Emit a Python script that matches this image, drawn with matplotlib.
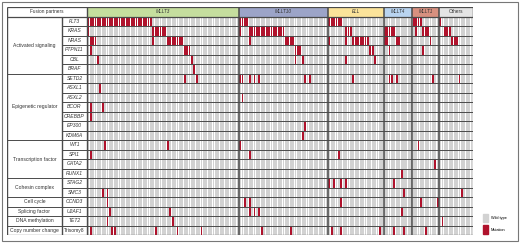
import numpy as np
import matplotlib.pyplot as plt
from matplotlib.patches import Patch, Rectangle

plt.rcParams['font.family'] = ['Liberation Sans', 'DejaVu Sans']

# fusion partner groups (patients are columns, grouped by partner)
partners = ['MLLT3', 'MLLT10', 'ELL', 'MLLT4', 'MLLT1', 'Others']
partner_sizes = [63, 37, 23, 12, 11, 14]
partner_colors = ['#c5de9e', '#9ca4c8', '#fbe39a', '#b9d4f0', '#d8907f', '#e4e4e4']

categories = ['Activated signaling', 'Epigenetic regulator', 'Transcription factor',
              'Cohesin complex', 'Cell cycle', 'Splicing factor', 'DNA methylation',
              'Copy number change']
category_sizes = [6, 7, 4, 2, 1, 1, 1, 1]

genes = ['FLT3', 'KRAS', 'NRAS', 'PTPN11', 'CBL', 'BRAF',
         'SETD2', 'ASXL1', 'ASXL2', 'BCOR', 'CREBBP', 'EP300', 'KDM6A',
         'WT1', 'SPI1', 'GATA2', 'RUNX1',
         'STAG2', 'SMC3', 'CCND3', 'U2AF1', 'TET2', 'Trisomy8']

# mutated patient columns for each row
flt3 = [0, 1, 2, 3, 4, 5, 6, 7, 8, 9, 10, 11, 12, 13, 14, 15, 16, 17, 18, 19, 20, 21, 22, 23, 24, 25, 26,
        63, 64, 65, 66, 100, 101, 102, 103, 104, 105, 135, 136, 137, 138, 146]
kras = [0, 27, 28, 29, 30, 31, 32, 63, 67, 68, 69, 70, 71, 72, 73, 74, 75, 76, 77, 78, 79, 80, 81,
        107, 108, 109, 123, 124, 125, 126, 127, 136, 139, 140, 141, 148, 149, 150]
nras = [1, 2, 3, 27, 33, 34, 35, 36, 37, 38, 39, 67, 82, 83, 84, 85, 100, 107,
        110, 111, 112, 113, 114, 115, 116, 123, 124, 128, 129, 142, 151, 152, 153]
ptpn11 = [1, 40, 41, 42, 86, 87, 88, 117, 118, 125, 139]
cbl = [4, 43, 86, 89, 107, 119]
braf = [44]
setd2 = [40, 45, 63, 64, 67, 69, 71, 90, 92, 110, 125, 126, 128, 143, 154]
asxl1 = [5]
asxl2 = [64]
bcor = [1, 6]
crebbp = [1]
ep300 = [90]
kdm6a = [89]
wt1 = [7, 33, 63, 137]
spi1 = [1, 67, 104]
gata2 = [144]
runx1 = [130]
stag2 = [100, 102, 105, 107, 127]
smc3 = [6, 8, 131, 155]
ccnd3 = [8, 65, 67, 105, 138, 145]
u2af1 = [9, 34, 67, 69, 71, 130]
tet2 = [8, 35, 147]
trisomy8 = [1, 10, 11, 28, 37, 47, 72, 84, 101, 105, 121, 127, 131, 140]

mutated = [flt3, kras, nras, ptpn11, cbl, braf, setd2, asxl1, asxl2, bcor, crebbp, ep300,
           kdm6a, wt1, spi1, gata2, runx1, stag2, smc3, ccnd3, u2af1, tet2, trisomy8]

GREY = '#d2d2d2'
RED = '#b0122c'
LINE = '#4a4a4a'
GENE_W = 10.4
CAT_W = 22.8
n_cols = sum(partner_sizes)
n_rows = len(genes)
left = -(GENE_W + CAT_W)

fig = plt.figure(figsize=(5.2, 2.43), dpi=100)
ax = fig.add_axes([7 / 520, 1 - 235 / 243, (472.7 - 7) / 520, (235 - 7) / 243])
ax.set_xlim(left, n_cols)
ax.set_ylim(n_rows, -1)
ax.axis('off')

cols = np.arange(n_cols)
for r, muts in enumerate(mutated):
    colors = np.where(np.isin(cols, muts), RED, GREY)
    ax.bar(cols + 0.5, 1, width=0.76, bottom=r, color=colors, linewidth=0)
    ax.text(-GENE_W / 2, r + 0.5, genes[r], ha='center', va='center', fontsize=3.6,
            style='normal' if genes[r] == 'Trisomy8' else 'italic', color='#333333')

# header row
starts = np.concatenate([[0], np.cumsum(partner_sizes)[:-1]])
sizes = np.array(partner_sizes)
ax.bar(starts + sizes / 2, 1, width=sizes, bottom=-1, color=partner_colors, linewidth=0)
for s, w, name in zip(starts, sizes, partners):
    ax.text(s + w / 2, -0.5, name, ha='center', va='center', fontsize=3.4, color='#333333',
            style='normal' if name == 'Others' else 'italic')
ax.text(left / 2, -0.5, 'Fusion partners', ha='center', va='center', fontsize=3.4, color='#333333')

# category labels
cat_starts = np.concatenate([[0], np.cumsum(category_sizes)[:-1]])
for s, n, name in zip(cat_starts, category_sizes, categories):
    ax.text(left + CAT_W / 2, s + n / 2, name, ha='center', va='center', fontsize=3.6, color='#333333')

# grid lines
ax.hlines(np.arange(1, n_rows), -GENE_W, n_cols, color=LINE, lw=0.7)
ax.hlines(cat_starts[1:], left, -GENE_W, color=LINE, lw=0.7)
ax.hlines([-1, 0, n_rows], left, n_cols, color=LINE, lw=0.9)
ax.vlines([left, 0, n_cols], -1, n_rows, color=LINE, lw=1.0)
ax.vlines([-GENE_W], 0, n_rows, color=LINE, lw=1.0)
ax.vlines(starts[1:], -1, n_rows, color=LINE, lw=1.1)

handles = [Patch(color=GREY, label='Wild type'), Patch(color=RED, label='Mutation')]
fig.legend(handles=handles, loc='lower left', bbox_to_anchor=(479 / 520, 6 / 243), frameon=False,
           fontsize=2.8, handlelength=1.3, handleheight=2.8, handletextpad=0.9, labelspacing=1.0)

fig.add_artist(Rectangle((2 / 520, 2 / 243), 515.5 / 520, 238.5 / 243, transform=fig.transFigure,
                         fill=False, ec='#777777', lw=0.8))

fig.savefig('out.png', dpi=100)
